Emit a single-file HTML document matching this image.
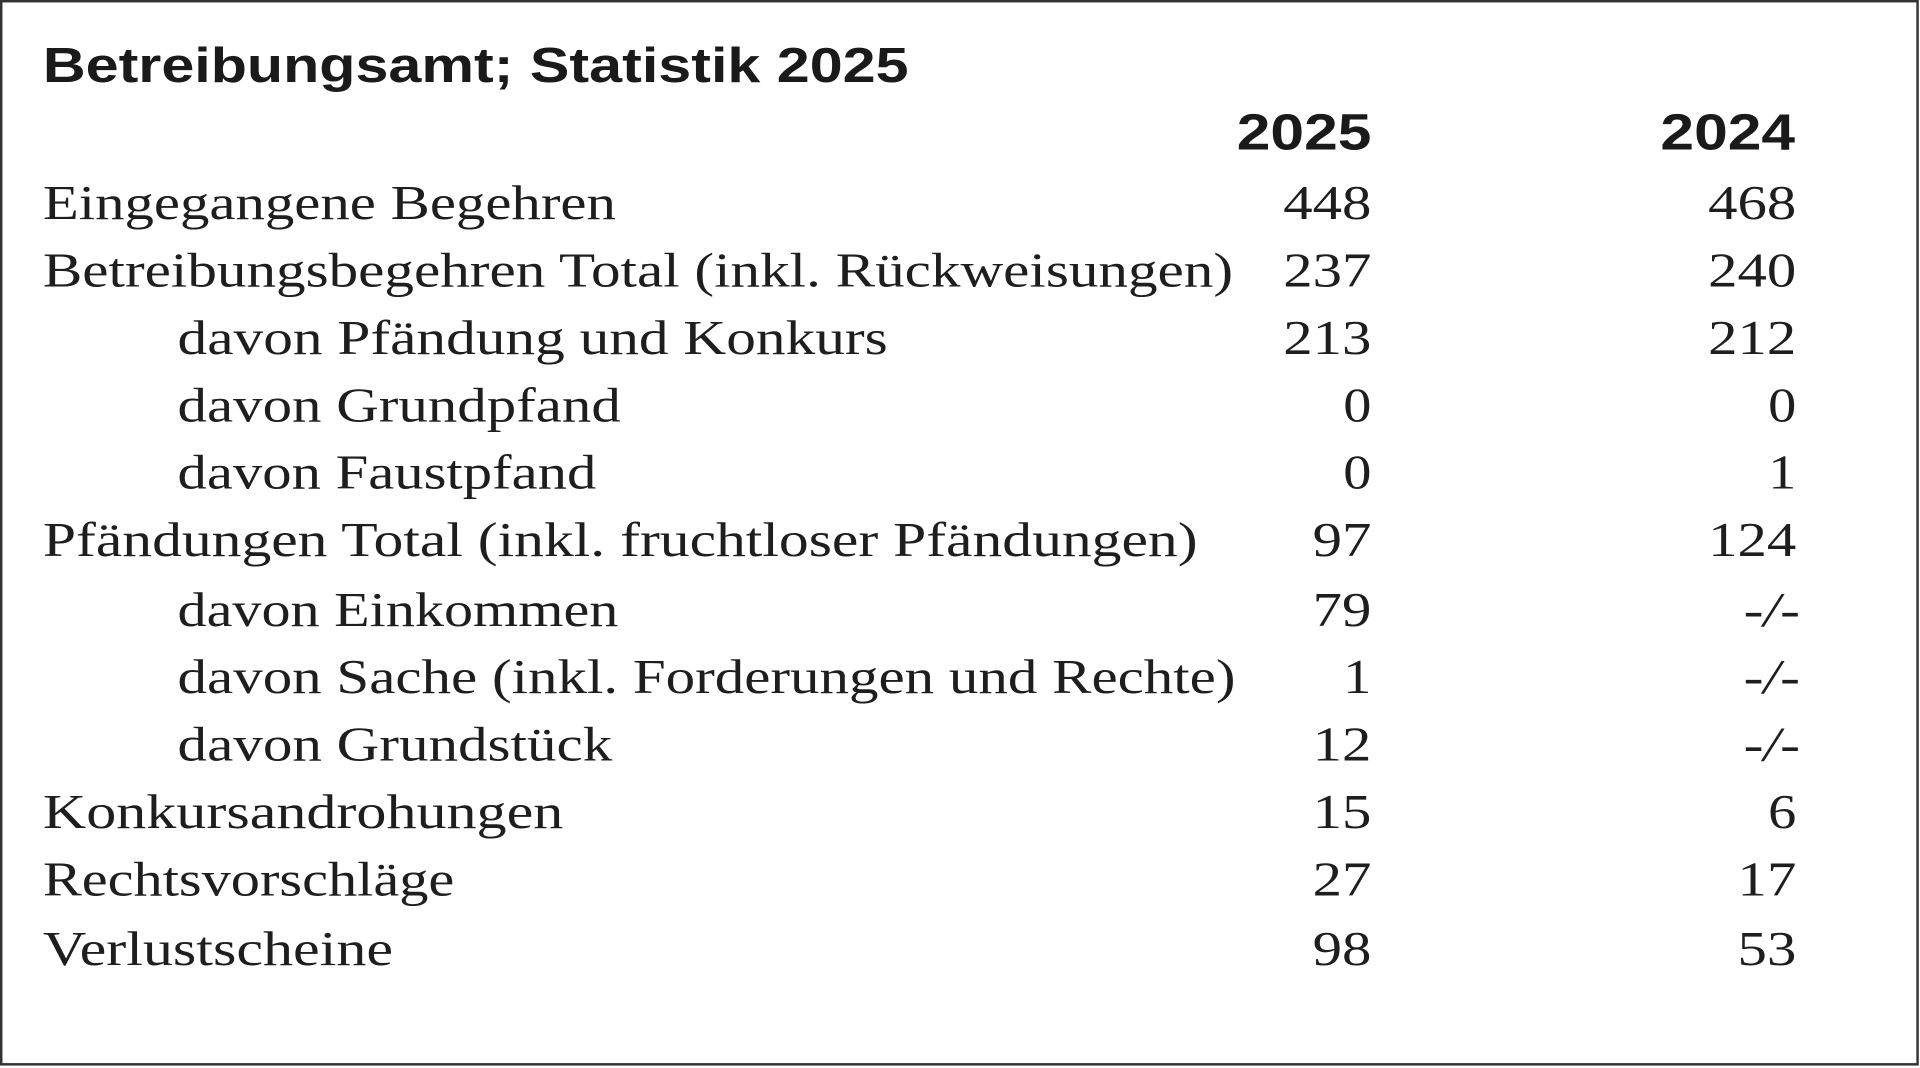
<!DOCTYPE html>
<html><head><meta charset="utf-8"><style>
html,body{margin:0;padding:0;background:#fff;}
svg{display:block;}
.s{font-family:"Liberation Serif",serif;font-size:40px;fill:#1e1e1e;}
.b{font-family:"Liberation Sans",sans-serif;font-weight:bold;fill:#1a1a1a;}
</style></head><body>
<svg width="1920" height="1068" viewBox="0 0 1568 872" preserveAspectRatio="none" xmlns="http://www.w3.org/2000/svg">
<rect x="1" y="1" width="1565" height="868" fill="#fff" stroke="#333" stroke-width="2"/>
<text class="b" x="35" y="67" font-size="40" textLength="707" lengthAdjust="spacingAndGlyphs">Betreibungsamt; Statistik 2025</text>
<text class="b" x="1010" y="122" font-size="42" textLength="110" lengthAdjust="spacingAndGlyphs">2025</text>
<text class="b" x="1356" y="122" font-size="42" textLength="110" lengthAdjust="spacingAndGlyphs">2024</text>
<g class="s">
<text x="35" y="179" textLength="468" lengthAdjust="spacingAndGlyphs">Eingegangene Begehren</text>
<text x="35" y="234" textLength="972" lengthAdjust="spacingAndGlyphs">Betreibungsbegehren Total (inkl. Rückweisungen)</text>
<text x="145" y="289" textLength="580" lengthAdjust="spacingAndGlyphs">davon Pfändung und Konkurs</text>
<text x="145" y="344" textLength="362" lengthAdjust="spacingAndGlyphs">davon Grundpfand</text>
<text x="145" y="399" textLength="342" lengthAdjust="spacingAndGlyphs">davon Faustpfand</text>
<text x="35" y="454" textLength="943" lengthAdjust="spacingAndGlyphs">Pfändungen Total (inkl. fruchtloser Pfändungen)</text>
<text x="145" y="511" textLength="360" lengthAdjust="spacingAndGlyphs">davon Einkommen</text>
<text x="145" y="566" textLength="864" lengthAdjust="spacingAndGlyphs">davon Sache (inkl. Forderungen und Rechte)</text>
<text x="145" y="621" textLength="355" lengthAdjust="spacingAndGlyphs">davon Grundstück</text>
<text x="35" y="676" textLength="425" lengthAdjust="spacingAndGlyphs">Konkursandrohungen</text>
<text x="35" y="731" textLength="336" lengthAdjust="spacingAndGlyphs">Rechtsvorschläge</text>
<text x="35" y="788" textLength="286" lengthAdjust="spacingAndGlyphs">Verlustscheine</text>
</g>
<g class="s">
<text x="1048" y="179" textLength="72" lengthAdjust="spacingAndGlyphs">448</text><text x="1395" y="179" textLength="72" lengthAdjust="spacingAndGlyphs">468</text>
<text x="1048" y="234" textLength="72" lengthAdjust="spacingAndGlyphs">237</text><text x="1395" y="234" textLength="72" lengthAdjust="spacingAndGlyphs">240</text>
<text x="1048" y="289" textLength="72" lengthAdjust="spacingAndGlyphs">213</text><text x="1395" y="289" textLength="72" lengthAdjust="spacingAndGlyphs">212</text>
<text x="1097" y="344" textLength="23" lengthAdjust="spacingAndGlyphs">0</text><text x="1444" y="344" textLength="23" lengthAdjust="spacingAndGlyphs">0</text>
<text x="1097" y="399" textLength="23" lengthAdjust="spacingAndGlyphs">0</text><text x="1444" y="399" textLength="23" lengthAdjust="spacingAndGlyphs">1</text>
<text x="1072" y="454" textLength="48" lengthAdjust="spacingAndGlyphs">97</text><text x="1395" y="454" textLength="72" lengthAdjust="spacingAndGlyphs">124</text>
<text x="1072" y="511" textLength="48" lengthAdjust="spacingAndGlyphs">79</text><text x="1424" y="511" font-style="italic" textLength="46" lengthAdjust="spacingAndGlyphs">-/-</text>
<text x="1097" y="566" textLength="23" lengthAdjust="spacingAndGlyphs">1</text><text x="1424" y="566" font-style="italic" textLength="46" lengthAdjust="spacingAndGlyphs">-/-</text>
<text x="1072" y="621" textLength="48" lengthAdjust="spacingAndGlyphs">12</text><text x="1424" y="621" font-style="italic" textLength="46" lengthAdjust="spacingAndGlyphs">-/-</text>
<text x="1072" y="676" textLength="48" lengthAdjust="spacingAndGlyphs">15</text><text x="1444" y="676" textLength="23" lengthAdjust="spacingAndGlyphs">6</text>
<text x="1072" y="731" textLength="48" lengthAdjust="spacingAndGlyphs">27</text><text x="1419" y="731" textLength="48" lengthAdjust="spacingAndGlyphs">17</text>
<text x="1072" y="788" textLength="48" lengthAdjust="spacingAndGlyphs">98</text><text x="1419" y="788" textLength="48" lengthAdjust="spacingAndGlyphs">53</text>
</g>
</svg>
</body></html>
